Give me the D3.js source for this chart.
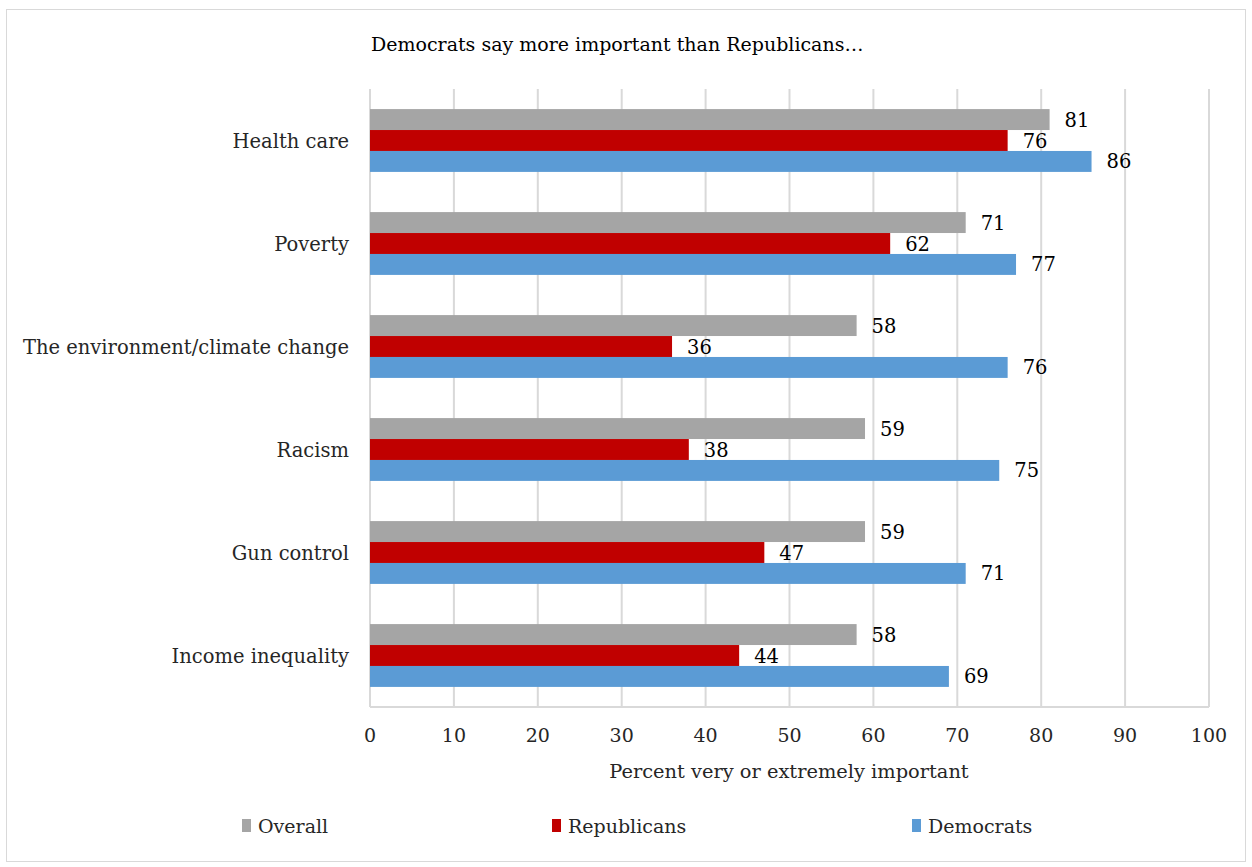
<!DOCTYPE html>
<html><head><meta charset="utf-8">
<script src="https://cdn.jsdelivr.net/npm/d3@7"></script>
<style>body{margin:0;background:#fff;} svg{display:block;}</style>
</head><body>
<script>
const categories = ["Health care","Poverty","The environment/climate change","Racism","Gun control","Income inequality"];
const seriesNames = ["Overall","Republicans","Democrats"];
const overall = [81,71,58,59,59,58];
const republicans = [76,62,36,38,47,44];
const democrats = [86,77,76,75,71,69];
const xTicks = [0,10,20,30,40,50,60,70,80,90,100];
const colors = ["#a5a5a5","#c00000","#5b9bd5"];
const title = "Democrats say more important than Republicans…";
const xTitle = "Percent very or extremely important";

const W=1252,H=867;
const svg=d3.select("body").append("svg").attr("width",W).attr("height",H);
const serif="'DejaVu Serif', serif";
svg.append("rect").attr("x",6.5).attr("y",9.5).attr("width",1239).attr("height",852).attr("fill","#fff").attr("stroke","#d9d9d9");

const x=d3.scaleLinear().domain([0,100]).range([370,1209]);
const y=d3.scaleBand().domain(categories).range([89,707]).paddingInner(0.39).paddingOuter(0.195);
const sub=d3.scaleBand().domain(seriesNames).range([0,y.bandwidth()]);
const series=[overall,republicans,democrats];

svg.append("g").selectAll("line").data(xTicks).join("line")
 .attr("x1",d=>x(d)).attr("x2",d=>x(d)).attr("y1",89).attr("y2",707)
 .attr("stroke","#d9d9d9").attr("stroke-width",2);

const g=svg.append("g");
series.forEach((vals,si)=>{
  g.append("g").selectAll("rect").data(vals).join("rect")
   .attr("x",x(0)).attr("y",(d,i)=>y(categories[i])+sub(seriesNames[si]))
   .attr("width",d=>x(d)-x(0)).attr("height",sub.bandwidth())
   .attr("fill",colors[si]);
  g.append("g").selectAll("text").data(vals).join("text")
   .attr("x",d=>x(d)+15).attr("y",(d,i)=>y(categories[i])+sub(seriesNames[si])+sub.bandwidth()/2)
   .attr("dy","0.36em").attr("font-family",serif).attr("font-size",19.5).attr("fill","#000")
   .text(d=>d);
});

svg.append("g").selectAll("text").data(categories).join("text")
 .attr("x",349).attr("y",d=>y(d)+y.bandwidth()/2).attr("dy","0.36em").attr("text-anchor","end")
 .attr("font-family",serif).attr("font-size",19.5).attr("fill","#262626").text(d=>d);

svg.append("line").attr("x1",x(0)).attr("x2",x(100)).attr("y1",707).attr("y2",707).attr("stroke","#d9d9d9").attr("stroke-width",2);
svg.append("g").selectAll("text").data(xTicks).join("text")
 .attr("x",d=>x(d)).attr("y",735).attr("dy","0.36em").attr("text-anchor","middle")
 .attr("font-family",serif).attr("font-size",19).attr("fill","#262626").text(d=>d);

svg.append("text").attr("x",789).attr("y",771).attr("dy","0.36em").attr("text-anchor","middle")
 .attr("font-family",serif).attr("font-size",19.4).attr("fill","#262626").text(xTitle);
svg.append("text").attr("x",371).attr("y",44).attr("dy","0.36em")
 .attr("font-family",serif).attr("font-size",19).attr("fill","#000").text(title);

const legX=[242,552,912];
seriesNames.forEach((n,i)=>{
  svg.append("rect").attr("x",legX[i]).attr("y",819).attr("width",9).attr("height",13).attr("fill",colors[i]);
  svg.append("text").attr("x",legX[i]+16).attr("y",826).attr("dy","0.36em")
   .attr("font-family",serif).attr("font-size",19).attr("fill","#262626").text(n);
});
</script>
</body></html>
